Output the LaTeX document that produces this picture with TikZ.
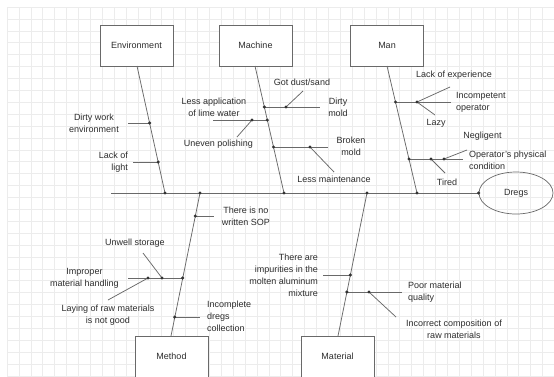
\documentclass[tikz,border=0pt]{standalone}
\usepackage{fontspec}
\setmainfont{Liberation Sans}
\usetikzlibrary{calc,shapes.geometric}
\definecolor{lnc}{RGB}{105,105,105}
\definecolor{txc}{RGB}{45,45,45}
\definecolor{grc}{RGB}{236,236,236}
\begin{document}
\begin{tikzpicture}[x=1pt,y=-1pt,
  box/.style={draw=lnc,line width=0.7pt,fill=white,minimum width=73pt,minimum height=41pt,inner sep=0pt,text=txc,font=\fontsize{9}{12}\selectfont},
  bone/.style={draw=lnc,line width=0.75pt},
  lbl/.style={text=txc,font=\fontsize{9}{12}\selectfont,inner sep=0pt},
  jointdot/.style={fill=black!80}]
\useasboundingbox (0,0) rectangle (554,376);
\fill[white] (0,0) rectangle (554,376);
% grid
\foreach \i in {0,...,46} {\draw[grc,line width=0.6pt] ({7+11.9*\i},7) -- ({7+11.9*\i},376);}
\foreach \j in {0,...,31} {\draw[grc,line width=0.6pt] (7,{7+11.9*\j}) -- (554,{7+11.9*\j});}

% category boxes
\node[box] (env) at (136.5,45.5) {Environment};
\node[box] (mach) at (255.5,45.5) {Machine};
\node[box] (man) at (387,45.5) {Man};
\node[box] (meth) at (171.5,356.5) {Method};
\node[box] (mat) at (337.5,356.5) {Material};
\node[draw=lnc,line width=0.7pt,ellipse,minimum width=74pt,minimum height=42pt,inner sep=0pt,text=txc,font=\fontsize{9}{12}\selectfont] (dregs) at (516,193) {Dregs};

% spine
\coordinate (s0) at (111,193);
\coordinate (sE) at (165,193);
\coordinate (sMe) at (200,193);
\coordinate (sMa) at (284,193);
\coordinate (sMt) at (367,193);
\coordinate (sMn) at (417,193);
\draw[bone] (s0) -- (dregs.west);

% Environment
\coordinate (envtop) at (137,66);
\draw[bone] (envtop) -- (sE);
\coordinate (e1) at (149.6,123); \coordinate (e1L) at (128,123);
\coordinate (e2) at (158.2,162); \coordinate (e2L) at (133,162);
\draw[bone] (e1) -- (e1L);
\draw[bone] (e2) -- (e2L);
\node[lbl,align=center] (te1) at (94,123) {Dirty work\\environment};
\node[lbl,align=right,anchor=east] (te2) at (128,162) {Lack of\\light};

% Machine
\coordinate (machtop) at (255,66);
\draw[bone] (machtop) -- (sMa);
\coordinate (m1) at (264.4,107); \coordinate (m1R) at (320,107); \coordinate (m1a) at (286,107); \coordinate (m1d) at (303,91);
\coordinate (m2) at (267.3,120); \coordinate (m2L) at (213,120); \coordinate (m2a) at (252,120); \coordinate (m2d) at (237,137);
\coordinate (m3) at (273.5,147); \coordinate (m3R) at (328,147); \coordinate (m3a) at (310,147); \coordinate (m3d) at (334,172);
\draw[bone] (m1) -- (m1R); \draw[bone] (m1a) -- (m1d);
\draw[bone] (m2) -- (m2L); \draw[bone] (m2a) -- (m2d);
\draw[bone] (m3) -- (m3R); \draw[bone] (m3a) -- (m3d);
\node[lbl] (tm1) at (302,82) {Got dust/sand};
\node[lbl,align=center] (tm2) at (338,107.5) {Dirty\\mold};
\node[lbl,align=center] (tm3) at (214,107) {Less application\\of lime water};
\node[lbl] (tm4) at (218.5,144) {Uneven polishing};
\node[lbl,align=center] (tm5) at (351,146) {Broken\\mold};
\node[lbl] (tm6) at (334,179.5) {Less maintenance};

% Man
\coordinate (mantop) at (387,66);
\draw[bone] (mantop) -- (sMn);
\coordinate (n1) at (395.5,102); \coordinate (n1R) at (451,102); \coordinate (n1a) at (417,102);
\coordinate (n1u) at (450,87); \coordinate (n1d) at (435,115);
\coordinate (n2) at (409,159); \coordinate (n2R) at (463,159); \coordinate (n2a) at (431,159); \coordinate (n2b) at (444,159);
\coordinate (n2u) at (467,150); \coordinate (n2d) at (445,173);
\draw[bone] (n1) -- (n1R); \draw[bone] (n1a) -- (n1u); \draw[bone] (n1a) -- (n1d);
\draw[bone] (n2) -- (n2R); \draw[bone] (n2b) -- (n2u); \draw[bone] (n2a) -- (n2d);
\node[lbl] (tn1) at (454,75.5) {Lack of experience};
\node[lbl,align=left,anchor=west] (tn2) at (456,102.5) {Incompetent\\operator};
\node[lbl] (tn3) at (436,123) {Lazy};
\node[lbl] (tn4) at (482.5,136.5) {Negligent};
\node[lbl,align=left,anchor=west] (tn5) at (469,160) {Operator's physical\\condition};
\node[lbl] (tn6) at (447,182) {Tired};

% Method
\coordinate (methtop) at (171,336);
\draw[bone] (sMe) -- (methtop);
\coordinate (t1) at (195.3,216); \coordinate (t1R) at (214,216);
\coordinate (t2) at (182.6,278); \coordinate (t2L) at (128,278); \coordinate (t2a) at (162,278); \coordinate (t2b) at (148,278);
\coordinate (t2u) at (143,253); \coordinate (t2d) at (108,300);
\coordinate (t3) at (174.7,317); \coordinate (t3R) at (200,317);
\draw[bone] (t1) -- (t1R);
\draw[bone] (t2) -- (t2L); \draw[bone] (t2a) -- (t2u); \draw[bone] (t2b) -- (t2d);
\draw[bone] (t3) -- (t3R);
\node[lbl,align=center] (tt1) at (246,216) {There is no\\written SOP};
\node[lbl] (tt2) at (135,243) {Unwell storage};
\node[lbl,align=center] (tt3) at (84.5,278) {Improper\\material handling};
\node[lbl,align=center] (tt4) at (108,315.5) {Laying of raw materials\\is not good};
\node[lbl,align=left,anchor=west] (tt5) at (207,316.5) {Incomplete\\dregs\\collection};

% Material
\coordinate (mattop) at (338,336);
\draw[bone] (sMt) -- (mattop);
\coordinate (r1) at (350.4,275); \coordinate (r1L) at (323,275);
\coordinate (r2) at (346.9,292); \coordinate (r2R) at (402,292); \coordinate (r2a) at (369,292); \coordinate (r2d) at (396,317);
\draw[bone] (r1) -- (r1L);
\draw[bone] (r2) -- (r2R); \draw[bone] (r2a) -- (r2d);
\node[lbl,align=right,anchor=east] (tr1) at (318,275) {There are\\impurities in the\\molten aluminum\\mixture};
\node[lbl,align=left,anchor=west] (tr2) at (408,292) {Poor material\\quality};
\node[lbl,align=center] (tr3) at (454,329.5) {Incorrect composition of\\raw materials};

% joint dots
\foreach \p in {sE,sMe,sMa,sMt,sMn,e1,e2,m1,m1a,m2,m2a,m3,m3a,n1,n1a,n2,n2a,n2b,t1,t2,t2a,t2b,t3,r1,r2,r2a}
  {\fill[jointdot] (\p) circle (1.7pt);}
\fill[jointdot] (dregs.west) circle (1.7pt);
\end{tikzpicture}
\end{document}
